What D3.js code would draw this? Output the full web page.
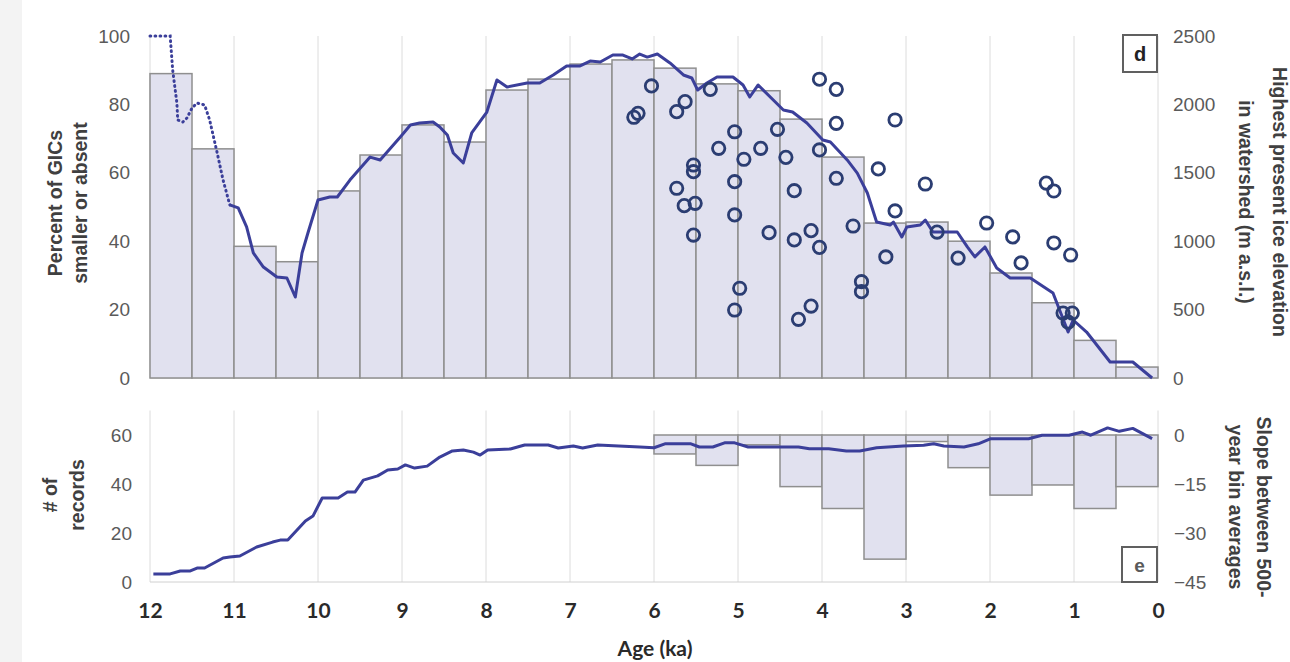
<!DOCTYPE html>
<html><head><meta charset="utf-8">
<script src="https://cdn.jsdelivr.net/npm/d3@7"></script>
<style>body{margin:0;background:#fff;} svg{display:block;}</style>
</head><body>
<script>
// ---------- data ----------
const binWidth = 0.5;
const binStart = [12,11.5,11,10.5,10,9.5,9,8.5,8,7.5,7,6.5,6,5.5,5,4.5,4,3.5,3,2.5,2,1.5,1,0.5];
const pctSmaller = [89,67,38.5,34,54.7,65.2,74,69,84.2,87.4,91.8,93,90.6,86,84,75.7,64.6,45.3,45.6,40,30.7,22,11,3.2];

const slopeBinStart = [6,5.5,5,4.5,4,3.5,3,2.5,2,1.5,1,0.5];
const slopeValues = [-5.8,-9.3,-3,-15.8,-22.5,-38,-2,-10,-18.4,-15.3,-22.5,-15.8];

const elevDottedAge = [12,11.76,11.73,11.68,11.67,11.61,11.56,11.5,11.44,11.35,11.29,11.2,11.13,11.05];
const elevDotted = [2500,2500,2251,2010,1886,1871,1901,1974,2010,1996,1886,1645,1447,1265];

const elevAge = [11.05,10.95,10.85,10.77,10.65,10.49,10.37,10.27,10.19,10.12,10.0,9.86,9.77,9.62,9.38,9.26,9.02,8.9,8.79,8.63,8.55,8.46,8.39,8.27,8.17,7.99,7.87,7.75,7.51,7.36,7.2,7.04,6.88,6.76,6.64,6.49,6.37,6.26,6.17,6.08,5.96,5.81,5.65,5.55,5.48,5.37,5.25,5.06,4.94,4.86,4.76,4.58,4.46,4.35,4.18,3.99,3.9,3.7,3.58,3.46,3.35,3.19,3.15,3.05,2.99,2.83,2.77,2.68,2.39,2.27,2.18,2.06,1.92,1.76,1.52,1.25,1.07,1.01,0.85,0.57,0.3,0.07];
const elevValues = [1265,1243,1104,914,811,738,731,592,914,1060,1301,1323,1323,1447,1615,1594,1762,1849,1864,1871,1835,1776,1645,1572,1791,1944,2178,2127,2156,2156,2215,2281,2281,2317,2310,2361,2361,2332,2368,2346,2368,2303,2215,2193,2105,2156,2200,2200,2142,2054,2142,2032,1959,1944,1864,1740,1725,1594,1498,1352,1140,1118,1140,1031,1104,1118,1155,1067,1067,958,885,958,804,731,731,621,336,424,336,117,117,0];

const siteAge = [6.03,6.19,6.24,5.63,5.73,5.33,5.53,5.53,5.73,5.64,5.51,5.53,5.04,5.23,4.93,4.73,4.53,5.04,4.43,5.04,4.33,4.63,4.33,4.13,4.03,4.03,3.83,3.83,4.03,3.83,3.63,3.53,3.53,4.98,5.04,4.13,4.28,3.33,3.13,3.13,3.24,2.77,2.63,2.38,2.04,1.73,1.63,1.33,1.24,1.24,1.04,1.13,1.02,1.07];
const siteElev = [2135,1935,1906,2020,1947,2110,1557,1508,1387,1260,1277,1045,1800,1679,1599,1679,1818,1435,1613,1192,1369,1062,1009,1077,955,1667,1460,1862,2184,2110,1111,704,631,656,497,526,429,1528,1886,1221,885,1418,1067,877,1133,1031,841,1425,1367,987,899,475,475,409];

const recAge = [11.96,11.76,11.64,11.52,11.44,11.35,11.13,11.05,10.93,10.73,10.54,10.45,10.36,10.15,10.06,9.95,9.76,9.65,9.56,9.46,9.29,9.17,9.05,8.96,8.85,8.70,8.55,8.40,8.27,8.15,8.07,7.98,7.71,7.54,7.26,7.14,6.96,6.85,6.67,6.17,6.0,5.87,5.56,5.46,5.30,5.16,5.04,4.88,4.28,4.15,3.92,3.71,3.55,3.35,3.03,2.79,2.67,2.55,2.31,2.14,1.99,1.54,1.38,1.06,0.90,0.80,0.60,0.46,0.30,0.07];
const recCount = [3.3,3.3,4.5,4.5,5.7,5.7,9.8,10.2,10.6,14.3,16.3,17.1,17.1,24.9,26.9,34.3,34.3,36.7,36.7,41.6,43.3,45.7,46.1,47.8,46.5,47.3,51,53.5,53.9,53,51.8,53.9,54.3,55.9,55.9,54.7,55.5,54.7,55.9,55.1,54.8,56.4,56.4,55.1,55.1,56.8,56.8,55.1,55.1,54.4,54.4,53.5,53.5,54.8,55.5,55.8,56.4,55.5,55.1,56.4,58.5,58.5,59.9,59.9,61.2,59.9,62.9,61.5,62.7,58.5];

const xTicks = [12,11,10,9,8,7,6,5,4,3,2,1,0];
const pctTicks = [0,20,40,60,80,100];
const elevTicks = [0,500,1000,1500,2000,2500];
const recTicks = [0,20,40,60];
const slopeTicks = [0,-15,-30,-45];

// ---------- styles ----------
const LINE = "#3b3f9a", CIRC = "#2b3d72", BARF = "#e1e1ef", BARS = "#8f8f8f", GRID = "#dcdcdc";
const TICKF = "'Liberation Sans', Arial, sans-serif";
const XF = "Lato, 'Open Sans', sans-serif";

const svg = d3.select("body").append("svg").attr("width",1290).attr("height",662);
svg.append("rect").attr("width",1290).attr("height",662).attr("fill","#fff");
svg.append("rect").attr("x",0).attr("y",0).attr("width",22).attr("height",662).attr("fill","#f3f3f3");

const x = d3.scaleLinear().domain([12,0]).range([150,1158]);
const yPct = d3.scaleLinear().domain([0,100]).range([378,36]);
const yElev = d3.scaleLinear().domain([0,2500]).range([378,36]);
const yRec = d3.scaleLinear().domain([0,70]).range([582,410.5]);
const ySlope = d3.scaleLinear().domain([-45,7.5]).range([582,410.5]);

// ---------- panel d ----------
const gd = svg.append("g");
gd.selectAll("line.grid").data(xTicks).join("line")
  .attr("x1",d=>x(d)).attr("x2",d=>x(d)).attr("y1",yPct(100)).attr("y2",yPct(0))
  .attr("stroke",GRID).attr("stroke-width",1);
gd.append("line").attr("x1",x(12)).attr("x2",x(0)).attr("y1",yPct(0)).attr("y2",yPct(0)).attr("stroke","#d0d0d0");
gd.selectAll("rect.bar").data(binStart).join("rect")
  .attr("x",d=>x(d)).attr("width",d=>x(d-binWidth)-x(d))
  .attr("y",(d,i)=>yPct(pctSmaller[i])).attr("height",(d,i)=>yPct(0)-yPct(pctSmaller[i]))
  .attr("fill",BARF).attr("stroke",BARS).attr("stroke-width",1.5);

const lineElev = d3.line().x(d=>x(d[0])).y(d=>yElev(d[1]));
gd.append("path").datum(elevDottedAge.map((a,i)=>[a,elevDotted[i]]))
  .attr("d",lineElev).attr("fill","none").attr("stroke",LINE).attr("stroke-width",3)
  .attr("stroke-dasharray","0.8,4.2").attr("stroke-linecap","round");
gd.append("path").datum(elevAge.map((a,i)=>[a,elevValues[i]]))
  .attr("d",lineElev).attr("fill","none").attr("stroke",LINE).attr("stroke-width",3).attr("stroke-linejoin","round");

gd.selectAll("circle.site").data(siteAge).join("circle")
  .attr("cx",d=>x(d)).attr("cy",(d,i)=>yElev(siteElev[i])).attr("r",6.2)
  .attr("fill","none").attr("stroke",CIRC).attr("stroke-width",2.8);

// axes d
const axL = gd.append("g").attr("transform",`translate(${x(12)},0)`)
  .call(d3.axisLeft(yPct).tickValues(pctTicks).tickSize(0).tickPadding(20).tickFormat(d3.format("d")));
const axR = gd.append("g").attr("transform",`translate(${x(0)},0)`)
  .call(d3.axisRight(yElev).tickValues(elevTicks).tickSize(0).tickPadding(15).tickFormat(d3.format("d")));

// label box d
gd.append("rect").attr("x",1123).attr("y",35).attr("width",34).attr("height",37)
  .attr("fill","#fff").attr("stroke","#606060").attr("stroke-width",2);
gd.append("text").attr("x",1140).attr("y",54).attr("text-anchor","middle").attr("dominant-baseline","central")
  .attr("font-family",TICKF).attr("font-weight","bold").attr("font-size",20).attr("fill","#222").text("d");

// ---------- panel e ----------
const ge = svg.append("g");
ge.selectAll("line.grid").data(xTicks).join("line")
  .attr("x1",d=>x(d)).attr("x2",d=>x(d)).attr("y1",yRec(70)).attr("y2",yRec(0))
  .attr("stroke",GRID).attr("stroke-width",1);
ge.append("line").attr("x1",x(12)).attr("x2",x(0)).attr("y1",yRec(0)).attr("y2",yRec(0)).attr("stroke","#d0d0d0");
ge.selectAll("rect.bar").data(slopeBinStart).join("rect")
  .attr("x",d=>x(d)).attr("width",d=>x(d-binWidth)-x(d))
  .attr("y",ySlope(0)).attr("height",(d,i)=>ySlope(slopeValues[i])-ySlope(0))
  .attr("fill",BARF).attr("stroke",BARS).attr("stroke-width",1.5);
const lineRec = d3.line().x(d=>x(d[0])).y(d=>yRec(d[1]));
ge.append("path").datum(recAge.map((a,i)=>[a,recCount[i]]))
  .attr("d",lineRec).attr("fill","none").attr("stroke",LINE).attr("stroke-width",3).attr("stroke-linejoin","round");

ge.append("g").attr("transform",`translate(${x(12)},0)`)
  .call(d3.axisLeft(yRec).tickValues(recTicks).tickSize(0).tickPadding(18).tickFormat(d3.format("d")));
ge.append("g").attr("transform",`translate(${x(0)},0)`)
  .call(d3.axisRight(ySlope).tickValues(slopeTicks).tickSize(0).tickPadding(16).tickFormat(d3.format("d")));

ge.append("rect").attr("x",1122).attr("y",547).attr("width",35).attr("height",35)
  .attr("fill","#fff").attr("stroke","#606060").attr("stroke-width",2);
ge.append("text").attr("x",1139.5).attr("y",565).attr("text-anchor","middle").attr("dominant-baseline","central")
  .attr("font-family",TICKF).attr("font-weight","bold").attr("font-size",20).attr("fill","#222").text("e");

// x axis
const axX = svg.append("g").attr("transform",`translate(0,${yRec(0)})`)
  .call(d3.axisBottom(x).tickValues(xTicks).tickSize(0).tickPadding(21));
axX.selectAll("text").attr("font-family",XF).attr("font-weight","bold")
  .attr("font-size",21).attr("fill","#2a2a2a");

svg.selectAll(".domain").remove();
[axL,axR].forEach(a=>a.selectAll("text").attr("font-family",TICKF).attr("font-size",19).attr("fill","#5a5a5a"));
ge.selectAll("g text").attr("font-family",TICKF).attr("font-size",19).attr("fill","#5a5a5a");

svg.append("text").attr("x",655).attr("y",647).attr("text-anchor","middle").attr("dominant-baseline","central")
  .attr("font-family",XF).attr("font-weight","bold").attr("font-size",21).attr("fill","#2a2a2a").text("Age (ka)");

// axis titles
function vtitle(lines, xs, yc, rot){
  lines.forEach((t,i)=>{
    svg.append("text").attr("transform",`translate(${xs[i]},${yc}) rotate(${rot})`)
      .attr("text-anchor","middle").attr("dominant-baseline","central")
      .attr("font-family",TICKF).attr("font-weight","bold").attr("font-size",19.5).attr("fill","#404040").text(t);
  });
}
vtitle(["Percent of GICs","smaller or absent"],[55,80],203,-90);
vtitle(["Highest present ice elevation","in watershed (m a.s.l.)"],[1280,1246],202,90);
vtitle(["# of","records"],[50,77],495,-90);
vtitle(["Slope between 500-","year bin averages"],[1264,1236],507,90);
</script>
</body></html>
